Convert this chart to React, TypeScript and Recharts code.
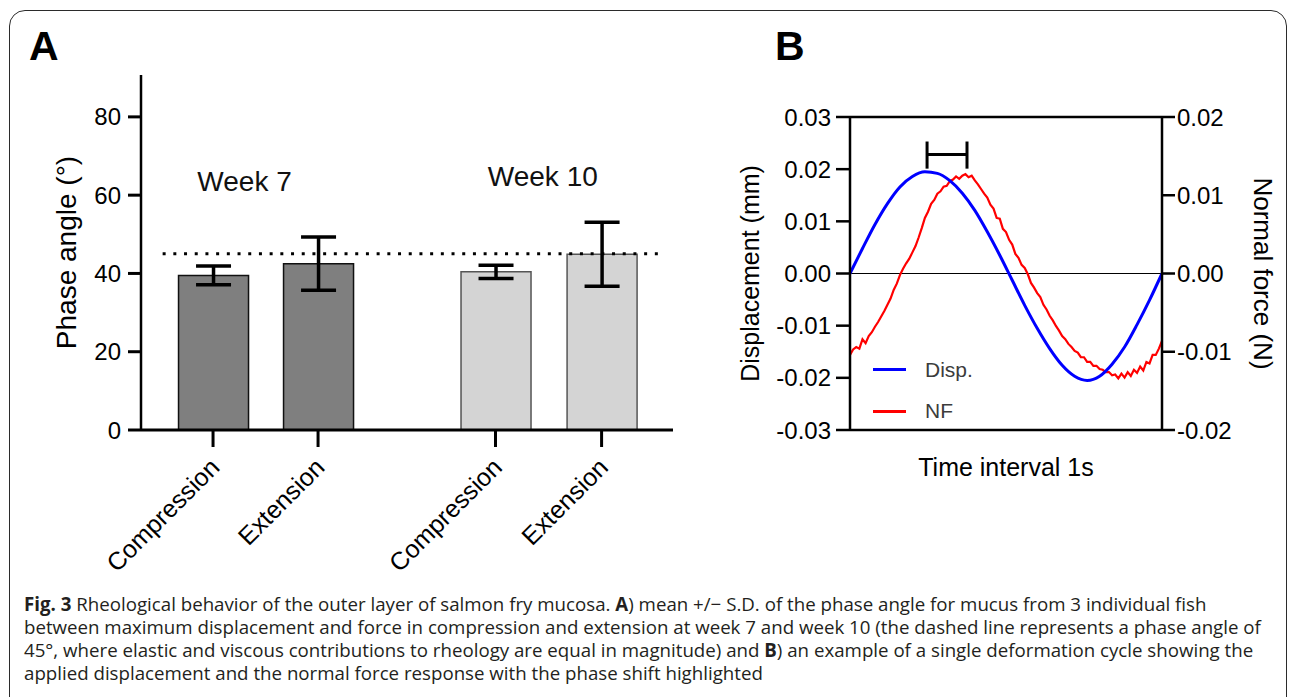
import React from 'react';
import {
  ComposedChart,
  Bar,
  Cell,
  ErrorBar,
  Line,
  XAxis,
  YAxis,
  ReferenceLine,
  ReferenceDot,
  Legend,
} from 'recharts';

const FONT = '"Liberation Sans", Arial, Helvetica, sans-serif';

// ---- Panel A: phase angle, mean +/- S.D. ----
const barLabels = ['Compression', 'Extension', 'Compression', 'Extension'];
const barWeeks = ['Week 7', 'Week 7', 'Week 10', 'Week 10'];
const barPos = [1, 2, 3.69, 4.7]; // slot positions on the x scale (gap between weeks)
const phaseMean = [39.5, 42.5, 40.4, 44.9];
const phaseSD = [2.4, 6.8, 1.7, 8.2];
const phaseTicks = [0, 20, 40, 60, 80];
const equalPhase = 45; // elastic == viscous

// ---- Panel B: one deformation cycle ----
const dispT = [0, 0.04, 0.08, 0.12, 0.16, 0.2, 0.24, 0.28, 0.32, 0.36, 0.4, 0.44, 0.48, 0.52, 0.56, 0.6, 0.64, 0.68, 0.72, 0.76, 0.8, 0.84, 0.88, 0.92, 0.96, 1];
const dispMm = [0, 0.0048, 0.0094, 0.0134, 0.0166, 0.0186, 0.0195, 0.0192, 0.0178, 0.0154, 0.0121, 0.008, 0.0035, -0.0013, -0.0061, -0.0105, -0.0144, -0.0176, -0.0197, -0.0205, -0.0197, -0.0174, -0.0141, -0.0098, -0.0051, 0];

const nfT = [
  0, 0.01, 0.02, 0.03, 0.04, 0.05, 0.06, 0.07, 0.08, 0.09,
  0.1, 0.11, 0.12, 0.13, 0.14, 0.15, 0.16, 0.17, 0.18, 0.19,
  0.2, 0.21, 0.22, 0.23, 0.24, 0.25, 0.26, 0.27, 0.28, 0.29,
  0.3, 0.31, 0.32, 0.33, 0.34, 0.35, 0.36, 0.37, 0.38, 0.39,
  0.4, 0.41, 0.42, 0.43, 0.44, 0.45, 0.46, 0.47, 0.48, 0.49,
  0.5, 0.51, 0.52, 0.53, 0.54, 0.55, 0.56, 0.57, 0.58, 0.59,
  0.6, 0.61, 0.62, 0.63, 0.64, 0.65, 0.66, 0.67, 0.68, 0.69,
  0.7, 0.71, 0.72, 0.73, 0.74, 0.75, 0.76, 0.77, 0.78, 0.79,
  0.8, 0.81, 0.82, 0.83, 0.84, 0.85, 0.86, 0.87, 0.88, 0.89,
  0.9, 0.91, 0.92, 0.93, 0.94, 0.95, 0.96, 0.97, 0.98, 0.99, 1,
];
const nfN = [
  -0.0104, -0.0097, -0.0094, -0.0096, -0.0084, -0.0089, -0.008, -0.0075, -0.0068, -0.0062,
  -0.0055, -0.0048, -0.004, -0.0032, -0.0021, -0.0013, -0.0002, 0.0006, 0.0013, 0.0019,
  0.0027, 0.0035, 0.0046, 0.0058, 0.0071, 0.0079, 0.0089, 0.0094, 0.0102, 0.0105,
  0.0111, 0.0112, 0.0118, 0.012, 0.0124, 0.0121, 0.0125, 0.0127, 0.0123, 0.0125,
  0.0119, 0.0114, 0.0108, 0.0102, 0.0097, 0.0088, 0.0083, 0.0071, 0.0070, 0.0057,
  0.0053, 0.0043, 0.0037, 0.0025, 0.0020, 0.0011, 0.0007, -0.0001, -0.0012, -0.0018,
  -0.0025, -0.003, -0.004, -0.0046, -0.0054, -0.006, -0.0067, -0.0073, -0.008, -0.0084,
  -0.009, -0.0094, -0.0099, -0.0101, -0.0107, -0.0107, -0.0113, -0.0113, -0.0118, -0.0118,
  -0.0122, -0.0123, -0.0126, -0.0126, -0.013, -0.0129, -0.0134, -0.0128, -0.0133, -0.0126,
  -0.0131, -0.0123, -0.0127, -0.0119, -0.0124, -0.0113, -0.0115, -0.0104, -0.0104, -0.0096, -0.0086,
];

const dispTicks = [-0.03, -0.02, -0.01, 0, 0.01, 0.02, 0.03];
const forceTicks = [-0.02, -0.01, 0, 0.01, 0.02];
const phaseShiftT = [0.247, 0.375]; // peak of Disp. and peak of NF
const bracketLevel = 0.0228;
const bracketSpan = [0.0201, 0.0253];
const legendOrder = ['Disp.', 'NF'];

const barData = barPos.map((x, i) => ({
  x,
  mean: phaseMean[i],
  sd: phaseSD[i],
  label: barLabels[i],
  week: barWeeks[i],
}));
const dispData = dispT.map((t, i) => ({ t, disp: dispMm[i] }));
const nfData = nfT.map((t, i) => ({ t, nf: nfN[i] }));

function RotatedTick(props: any) {
  const { x, y, index } = props;
  const px = x + 8;
  const py = y + 20;
  return (
    <text
      x={px}
      y={py}
      transform={`rotate(-45, ${px}, ${py})`}
      textAnchor="end"
      fontSize={25}
      fill="#000"
      fontFamily={FONT}
    >
      {barLabels[index]}
    </text>
  );
}

function LegendBox({ payload }: any) {
  const items = [...(payload || [])].sort(
    (a: any, b: any) => legendOrder.indexOf(a.value) - legendOrder.indexOf(b.value)
  );
  return (
    <div style={{ fontFamily: FONT }}>
      {items.map((p: any) => (
        <div key={p.value} style={{ display: 'flex', alignItems: 'center', height: 41.5 }}>
          <span style={{ display: 'inline-block', width: 33, height: 3, background: p.color, marginRight: 19 }} />
          <span style={{ fontSize: 21, color: '#3c3c3c' }}>{p.value}</span>
        </div>
      ))}
    </div>
  );
}

function PhaseAngleChart() {
  const weekFill: Record<string, string> = { 'Week 7': '#7f7f7f', 'Week 10': '#d4d4d4' };
  const weekStroke: Record<string, string> = { 'Week 7': '#111', 'Week 10': '#555' };
  return (
    <ComposedChart
      width={700}
      height={600}
      data={barData}
      margin={{ top: 75, right: 27, bottom: 0, left: 0 }}
      style={{ fontFamily: FONT }}
    >
      <XAxis
        type="number"
        dataKey="x"
        domain={[0.314, 5.38]}
        ticks={barPos}
        interval={0}
        height={170}
        tickSize={17}
        tickMargin={2}
        axisLine={{ stroke: '#000', strokeWidth: 3 }}
        tickLine={{ stroke: '#000', strokeWidth: 3 }}
        tick={<RotatedTick />}
      />
      <YAxis
        type="number"
        domain={[0, 90.7]}
        ticks={phaseTicks}
        interval={0}
        width={141}
        tickSize={13}
        tickMargin={7}
        axisLine={{ stroke: '#000', strokeWidth: 2.5 }}
        tickLine={{ stroke: '#000', strokeWidth: 3 }}
        tick={{ fill: '#000', fontSize: 24 }}
        label={{
          value: 'Phase angle (°)',
          angle: -90,
          position: 'insideLeft',
          offset: 66,
          fill: '#000',
          fontSize: 28,
          style: { textAnchor: 'middle' },
        }}
      />
      <Bar dataKey="mean" barSize={70} isAnimationActive={false} strokeWidth={1.5}>
        {barData.map((d, i) => (
          <Cell key={i} fill={weekFill[d.week]} stroke={weekStroke[d.week]} />
        ))}
        <ErrorBar dataKey="sd" width={17.5} strokeWidth={3.5} stroke="#000" isAnimationActive={false} />
      </Bar>
      <ReferenceLine
        segment={[{ x: 0.52, y: equalPhase }, { x: 5.29, y: equalPhase }]}
        stroke="#000"
        strokeWidth={3}
        strokeDasharray="3 7.7"
      />
      <ReferenceDot x={1.3} y={63.7} r={0} label={{ value: 'Week 7', position: 'center', fontSize: 28, fill: '#111' }} />
      <ReferenceDot x={4.14} y={65} r={0} label={{ value: 'Week 10', position: 'center', fontSize: 28, fill: '#111' }} />
    </ComposedChart>
  );
}

function CycleChart() {
  return (
    <ComposedChart
      width={593}
      height={500}
      margin={{ top: 117, right: 0, bottom: 20, left: 0 }}
      style={{ fontFamily: FONT }}
    >
      <XAxis
        type="number"
        dataKey="t"
        domain={[0, 1]}
        height={50}
        tick={false}
        tickLine={false}
        axisLine={{ stroke: '#000', strokeWidth: 2.5 }}
        label={{ value: 'Time interval 1s', position: 'insideBottom', offset: 4, fontSize: 25, fill: '#000' }}
      />
      <YAxis
        yAxisId="left"
        type="number"
        domain={[-0.03, 0.03]}
        ticks={dispTicks}
        interval={0}
        width={150}
        tickSize={14}
        tickMargin={5}
        tickFormatter={(v: number) => v.toFixed(2)}
        axisLine={{ stroke: '#000', strokeWidth: 2.5 }}
        tickLine={{ stroke: '#000', strokeWidth: 2.5 }}
        tick={{ fill: '#000', fontSize: 24 }}
        label={{
          value: 'Displacement (mm)',
          angle: -90,
          position: 'insideLeft',
          offset: 50,
          fill: '#000',
          fontSize: 25,
          style: { textAnchor: 'middle' },
        }}
      />
      <YAxis
        yAxisId="right"
        orientation="right"
        type="number"
        domain={[-0.02, 0.02]}
        ticks={forceTicks}
        interval={0}
        width={131}
        tickSize={13}
        tickMargin={2}
        tickFormatter={(v: number) => v.toFixed(2)}
        axisLine={{ stroke: '#000', strokeWidth: 2.5 }}
        tickLine={{ stroke: '#000', strokeWidth: 2.5 }}
        tick={{ fill: '#000', fontSize: 24 }}
        label={{
          value: 'Normal force (N)',
          angle: 90,
          position: 'insideRight',
          offset: 30,
          fill: '#000',
          fontSize: 26,
          style: { textAnchor: 'middle' },
        }}
      />
      <ReferenceLine yAxisId="left" y={0.03} stroke="#000" strokeWidth={2.5} />
      <ReferenceLine yAxisId="left" y={0} stroke="#000" strokeWidth={1.2} />
      <Line
        yAxisId="right"
        data={nfData}
        dataKey="nf"
        name="NF"
        type="linear"
        stroke="#ff0000"
        strokeWidth={2.2}
        dot={false}
        isAnimationActive={false}
      />
      <Line
        yAxisId="left"
        data={dispData}
        dataKey="disp"
        name="Disp."
        type="monotone"
        stroke="#0000ff"
        strokeWidth={3}
        dot={false}
        isAnimationActive={false}
      />
      <ReferenceLine
        yAxisId="left"
        segment={[{ x: phaseShiftT[0], y: bracketLevel }, { x: phaseShiftT[1], y: bracketLevel }]}
        stroke="#000"
        strokeWidth={3}
      />
      {phaseShiftT.map((t) => (
        <ReferenceLine
          key={t}
          yAxisId="left"
          segment={[{ x: t, y: bracketSpan[0] }, { x: t, y: bracketSpan[1] }]}
          stroke="#000"
          strokeWidth={3}
        />
      ))}
      <Legend
        layout="vertical"
        align="center"
        verticalAlign="middle"
        content={<LegendBox />}
        wrapperStyle={{ position: 'absolute', left: 173, top: 349, width: 120 }}
      />
    </ComposedChart>
  );
}

export default function App() {
  return (
    <div
      style={{
        position: 'fixed',
        left: 0,
        top: 0,
        width: 1293,
        height: 697,
        overflow: 'hidden',
        background: '#fff',
        fontFamily: FONT,
      }}
    >
      <div
        style={{
          position: 'absolute',
          left: 9,
          top: 10,
          width: 1278,
          height: 740,
          boxSizing: 'border-box',
          border: '1.5px solid #2b2b2b',
          borderRadius: 16,
        }}
      />
      <div style={{ position: 'absolute', left: 0, top: 0 }}>
        <PhaseAngleChart />
      </div>
      <div style={{ position: 'absolute', left: 700, top: 0 }}>
        <CycleChart />
      </div>
      <svg width={1293} height={80} style={{ position: 'absolute', left: 0, top: 0, pointerEvents: 'none' }}>
        <text x={29} y={60} fontSize={41} fontWeight="bold" fill="#000" fontFamily={FONT}>A</text>
        <text x={775} y={60} fontSize={41} fontWeight="bold" fill="#000" fontFamily={FONT}>B</text>
      </svg>
      <div
        style={{
          position: 'absolute',
          left: 24,
          top: 592,
          width: 1265,
          fontFamily: '"Open Sans", "Noto Sans", sans-serif',
          fontSize: 18.7,
          lineHeight: '23px',
          color: '#231f20',
          whiteSpace: 'nowrap',
        }}
      >
        <b>Fig. 3</b> Rheological behavior of the outer layer of salmon fry mucosa. <b>A</b>) mean +/− S.D. of the phase angle for mucus from 3 individual fish
        <br />
        between maximum displacement and force in compression and extension at week 7 and week 10 (the dashed line represents a phase angle of
        <br />
        45°, where elastic and viscous contributions to rheology are equal in magnitude) and <b>B</b>) an example of a single deformation cycle showing the
        <br />
        applied displacement and the normal force response with the phase shift highlighted
      </div>
    </div>
  );
}
